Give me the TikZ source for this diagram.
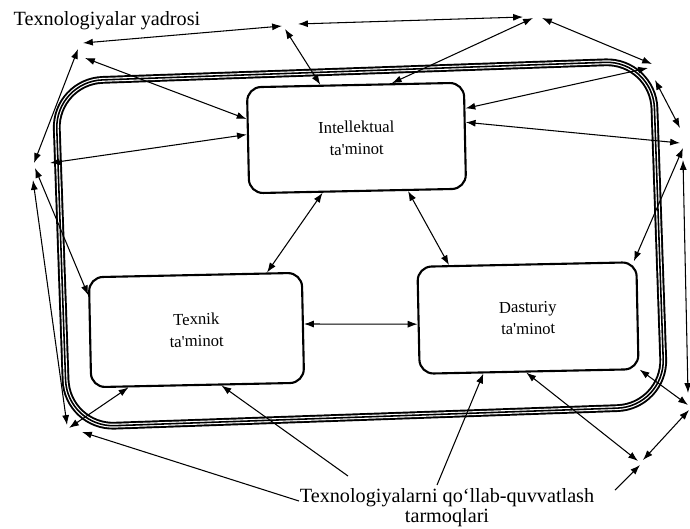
\documentclass[tikz,border=0pt]{standalone}
\usepackage{fontspec}
\setmainfont{Liberation Serif}
\newfontfamily\lserif{Liberation Serif}
\usetikzlibrary{arrows.meta}
\tikzset{
  blok/.style={draw,line width=1.2pt,rounded corners=8pt,align=center,rotate=1.2,font=\lserif\fontsize{9.5}{12.5}\selectfont},
  lnk/.style={line width=.6pt},
  twoway/.style={lnk,{Latex[length=5.6pt,width=4pt]}-{Latex[length=5.6pt,width=4pt]}},
  oneway/.style={lnk,-{Latex[length=5.6pt,width=4pt]}},
  lbl/.style={font=\lserif\fontsize{11.5}{11.5}\selectfont,inner sep=0pt,align=center}
}

\begin{document}
\begin{tikzpicture}[x=0.02cm,y=-0.02cm]
\useasboundingbox (0,0) rectangle (690,528);
% outer frame (three lines)
\begin{scope}[rotate around={2:(360,244)}]
\foreach \w/\c in {4.4pt/black,2.2pt/white,.9pt/black}
  \draw[\c,line width=\w,rounded corners=27pt] (61,71) -- (659,71) -- (659,417) -- (61,417) -- cycle;
\end{scope}
% the three blocks
\node[blok,minimum width=4.34cm,minimum height=2.12cm] (intel) at (356.5,138) {Intellektual\\ta'minot};
\node[blok,minimum width=4.26cm,minimum height=2.2cm] (texnik) at (196.5,330) {Texnik\\ta'minot};
\node[blok,minimum width=4.38cm,minimum height=2.14cm] (dastur) at (528,318) {Dasturiy\\ta'minot};
% labels
\node[lbl,anchor=base] (yadro) at (107,25) {Texnologiyalar yadrosi};
\node[lbl] (tarmoq) at (447,508) {Texnologiyalarni qo‘llab-quvvatlash\\tarmoqlari};
% free ends round the frame
\foreach \n/\p in {a1/{83,43},a2/{282,26},a3/{298,24},a4/{523,17},a5/{285,29},a6/{78,49},a7/{34,163},a8/{85,58},a9/{50,163},
  b1/{533,18},b2/{542,18},b3/{652,64},b4/{648,68},b5/{655,80},b6/{680,128},b7/{680,143},b8/{683,148},b9/{683,160},
  c1/{688,393},c2/{688,405},c3/{689,410},c4/{643,460},c5/{638,461},c6/{640,465},c7/{615,490},
  d1/{69,428},d2/{67,425},d3/{33,180},d4/{35,168},d5/{82,432},
  s1/{299,501},s2/{348,476},s3/{437,485}}
  \coordinate (\n) at (\p);
% two-way links
\foreach \a/\b in {a1/a2,a3/a4,a5/intel.123,a6/a7,a8/intel.169,a9/intel.177,intel.56/b1,b2/b3,b4/intel.14,b5/b6,
  intel.7/b7,b8/dastur.27,b9/c1,dastur.334/c2,c3/c4,dastur.267/c5,d1/texnik.219,d3/d2,d4/texnik.161,
  intel.237/texnik.38,intel.313/dastur.145,texnik.2/dastur.182}
  \draw[twoway] (\a) -- (\b);
% one-way links
\foreach \a/\b in {c7/c6,s1/d5,s2/texnik.293,s3/dastur.230}
  \draw[oneway] (\a) -- (\b);
\end{tikzpicture}
\end{document}
